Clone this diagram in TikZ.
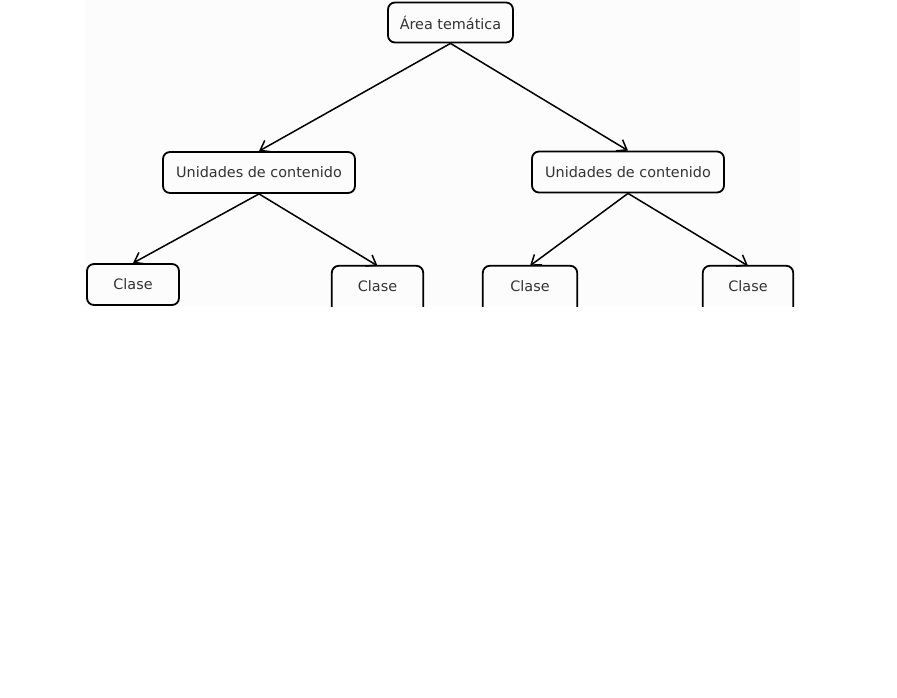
\documentclass[tikz,border=0pt]{standalone}
\usepackage{fontspec}
\setmainfont{DejaVu Sans}
\usetikzlibrary{arrows.meta,positioning}
\begin{document}
\begin{tikzpicture}[x=1pt,y=-1pt,
  box/.style={draw=black,line width=1.8pt,rounded corners=7pt,inner sep=0pt,font=\fontsize{14.4}{16}\selectfont,text=black!80},
  cutbox/.style={inner sep=0pt,font=\fontsize{14.4}{16}\selectfont,text=black!80},
  conn/.style={line width=1.5pt,-{Straight Barb[length=9pt,width=13pt,line width=1.5pt]}}]
\useasboundingbox (0,0) rectangle (897,698);
\fill[white] (0,0) rectangle (897,698);
\fill[black!1] (85,0) rectangle (800,306);
% nodes
\node[box,minimum width=125pt,minimum height=40pt] (area) at (450.5,22.5) {Área temática};
\node[box,minimum width=192pt,minimum height=41pt] (u1) at (259,172.5) {Unidades de contenido};
\node[box,minimum width=192pt,minimum height=41pt] (u2) at (628,172) {Unidades de contenido};
\node[box,minimum width=92pt,minimum height=41pt] (c1) at (133,284.5) {Clase};
\node[cutbox,minimum width=91pt,minimum height=41pt] (c2) at (377.5,286.5) {Clase};
\node[cutbox,minimum width=94pt,minimum height=41pt] (c3) at (530,286.5) {Clase};
\node[cutbox,minimum width=90pt,minimum height=41pt] (c4) at (748,286.5) {Clase};
% cut-off boxes
\begin{scope}
\clip (0,0) rectangle (897,306);
\foreach \n in {c2,c3,c4}{
  \draw[line width=1.8pt,rounded corners=7pt] (\n.north west) rectangle ([yshift=-14pt]\n.south east);
}
\end{scope}
% connectors
\draw[conn] (area.south) -- (u1.north);
\draw[conn] (area.south) -- (u2.north);
\draw[conn] (u1.south) -- (c1.north);
\draw[conn] (u1.south) -- (c2.north);
\draw[conn] (u2.south) -- (c3.north);
\draw[conn] (u2.south) -- (c4.north);
\end{tikzpicture}
\end{document}
